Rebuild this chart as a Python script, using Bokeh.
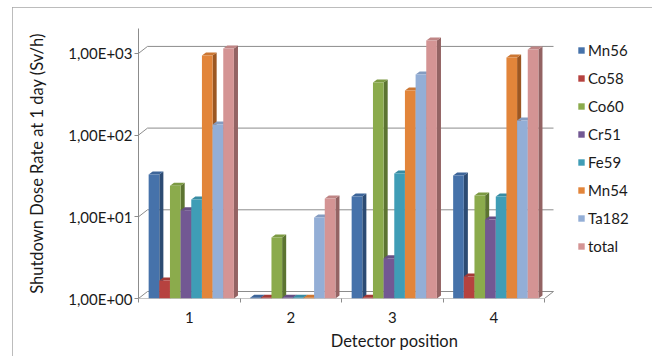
from bokeh.plotting import figure
from bokeh.models import FixedTicker, Range1d, Legend, LegendItem
from bokeh.embed import file_html
from bokeh.resources import INLINE

positions = ["1", "2", "3", "4"]
series = ["Mn56", "Co58", "Co60", "Cr51", "Fe59", "Mn54", "Ta182", "total"]
mn56 = [33, 1.02, 17.7, 32]
co58 = [1.66, 1.02, 1.02, 1.86]
co60 = [24, 5.6, 440, 18.2]
cr51 = [12, 1.02, 3.1, 9.3]
fe59 = [16.3, 1.02, 34, 17.7]
mn54 = [942, 1.02, 352, 890]
ta182 = [135, 9.8, 550, 151]
total = [1150, 16.8, 1440, 1120]
y_ticks = [1, 10, 100, 1000]
y_tick_labels = ["1,00E+00", "1,00E+01", "1,00E+02", "1,00E+03"]

values = [mn56, co58, co60, cr51, fe59, mn54, ta182, total]
front_colors = ["#4672aa", "#b6423f", "#8bab4c", "#725893", "#3f9db6", "#e2853a", "#93aed6", "#d49494"]
side_colors = ["#2c4b73", "#7a2a28", "#5c7431", "#4b3a62", "#29697a", "#9c5722", "#64789a", "#936363"]
top_colors = ["#3d6599", "#a33a37", "#7c9a43", "#664f84", "#388ca3", "#cc7733", "#849cc1", "#bf8585"]

FONT = "Lato"
BW = 0.105          # bar front width (x units)
DXB = 0.04          # bar depth x offset
KB = 10 ** (3 / 81.7)  # bar depth y factor
DX = 0.0887         # floor depth x offset
K = 10 ** (7 / 81.7)   # floor depth y factor
X_END = 0.5 + 512 / 101.5  # frame extends under the legend area

p = figure(width=640, height=349, y_axis_type="log",
           x_range=Range1d(0.5, X_END), y_range=Range1d(1, 2018),
           output_backend="svg", toolbar_location=None,
           min_border_left=126, min_border_right=2,
           min_border_top=21, min_border_bottom=58)
p.margin = (7, 0, 0, 12)
p.styles = {"outline": "1px solid #a6a6a6", "outline-offset": "-1px"}
p.outline_line_color = None
p.xgrid.visible = False
p.ygrid.visible = False
p.background_fill_color = "white"

# walls / gridlines / floor
gx, gy = [], []
for v in y_ticks:
    gx.append([0.5, 0.5 + DX, 4.5 + DX])
    gy.append([v, v * K, v * K])
p.multi_line(gx, gy, line_color="#8c8c8c", line_width=1)
p.line([0.5, 4.5, 4.5 + DX], [1, 1, K], line_color="#8c8c8c", line_width=1)

sx, sy, sc = [], [], []
tx, ty, tc = [], [], []
fronts = []
for i, (name, vals) in enumerate(zip(series, values)):
    lefts = [g + 1 + 0.02 - 4 * BW + i * BW for g in range(len(positions))]
    rights = [l + BW for l in lefts]
    for l, r, v in zip(lefts, rights, vals):
        sx.append([r, r + DXB, r + DXB, r])
        sy.append([1, KB, v * KB, v])
        sc.append(side_colors[i])
        tx.append([l, l + DXB, r + DXB, r])
        ty.append([v, v * KB, v * KB, v])
        tc.append(top_colors[i])
    fronts.append((name, lefts, rights, vals))

p.patches(sx, sy, fill_color=sc, line_color=None)
p.patches(tx, ty, fill_color=tc, line_color=None)
items = []
for i, (name, lefts, rights, vals) in enumerate(fronts):
    r = p.quad(left=lefts, right=rights, bottom=[1] * len(vals), top=vals,
               fill_color=front_colors[i], line_color=None)
    items.append(LegendItem(label=name, renderers=[r]))

legend = Legend(items=items, location=(439, 43))
legend.glyph_width = 8
legend.glyph_height = 8
legend.label_height = 17
legend.spacing = 10
legend.padding = 0
legend.margin = 0
legend.label_standoff = 3
legend.border_line_color = None
legend.background_fill_alpha = 0
legend.label_text_font = FONT
legend.label_text_font_size = "15px"
legend.label_text_color = "#1a1a1a"
p.add_layout(legend)

# y axis
ya = p.yaxis[0]
ya.ticker = FixedTicker(ticks=y_ticks, minor_ticks=[])
ya.major_label_overrides = {t: s for t, s in zip(y_ticks, y_tick_labels)}
ya.axis_line_color = "#8c8c8c"
ya.major_tick_line_color = "#8c8c8c"
ya.major_tick_out = 4
ya.major_tick_in = 0
ya.minor_tick_line_color = None
ya.major_label_standoff = 2
ya.major_label_text_font = FONT
ya.major_label_text_font_size = "15px"
ya.major_label_text_color = "#1a1a1a"
ya.axis_label = "Shutdown Dose Rate at 1 day (Sv/h)"
ya.axis_label_text_font = FONT
ya.axis_label_text_font_size = "16.5px"
ya.axis_label_text_font_style = "normal"
ya.axis_label_text_color = "#1a1a1a"
ya.axis_label_standoff = 18

# x axis
xa = p.xaxis[0]
xa.ticker = FixedTicker(ticks=[1, 2, 3, 4], minor_ticks=[0.5, 1.5, 2.5, 3.5, 4.5])
xa.major_label_overrides = {i + 1: s for i, s in enumerate(positions)}
xa.axis_line_color = None
xa.major_tick_line_color = None
xa.major_tick_out = 0
xa.major_tick_in = 0
xa.minor_tick_line_color = "#8c8c8c"
xa.minor_tick_out = 4
xa.minor_tick_in = 0
xa.major_label_standoff = 9
xa.major_label_text_font = FONT
xa.major_label_text_font_size = "15px"
xa.major_label_text_color = "#1a1a1a"
xa.axis_label = "Detector position"
xa.axis_label_text_font = FONT
xa.axis_label_text_font_size = "16.5px"
xa.axis_label_text_font_style = "normal"
xa.axis_label_text_color = "#1a1a1a"
xa.axis_label_standoff = 5

open("out.html", "w").write(file_html(p, INLINE))
